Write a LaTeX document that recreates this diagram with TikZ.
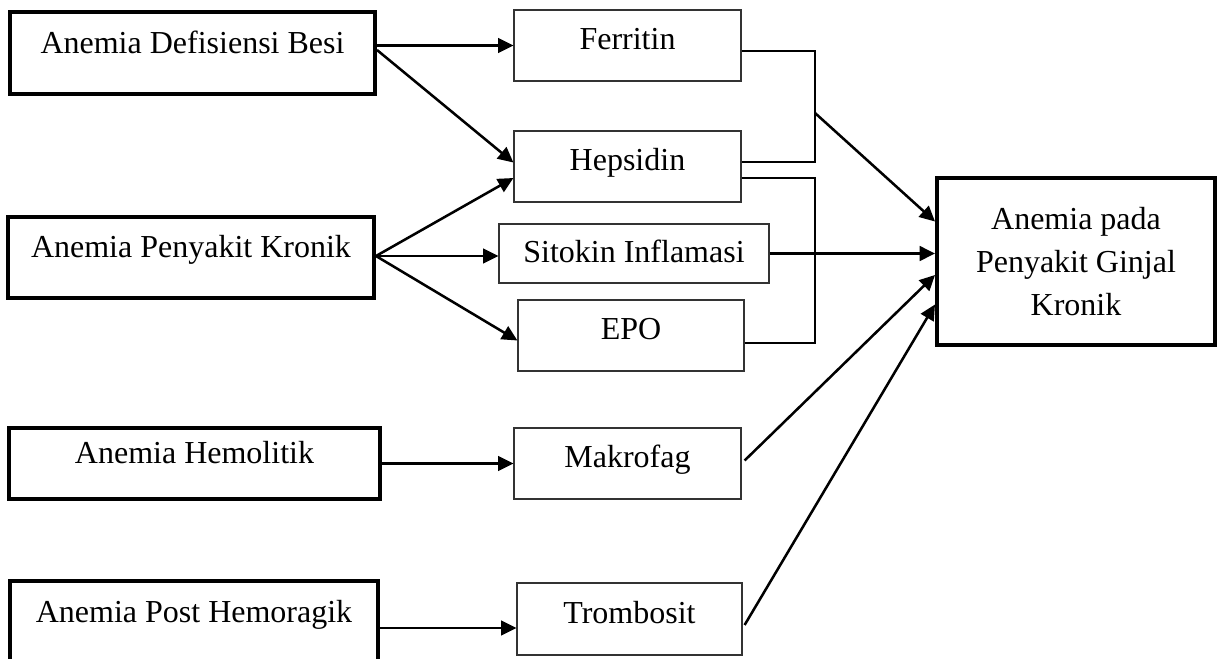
\documentclass[tikz,border=0pt]{standalone}
\usepackage{fontspec}
\setmainfont{Liberation Serif}
\usetikzlibrary{shapes,calc,arrows.meta}

\begin{document}
\begin{tikzpicture}[x=0.75pt,y=-0.75pt]
				\tikzstyle{every node}=[font=\fontsize{24}{32}\selectfont, inner sep=0pt]
				\tikzstyle{anemia}=[rectangle, draw, line width=3pt, text height=14pt, text depth=14pt]
				\tikzstyle{faktor}=[rectangle, draw=black!80, line width=0.9pt, text height=16pt, text depth=10pt]
				\tikzstyle{hasil}=[rectangle, draw, line width=3pt, align=center]
				\tikzstyle{panah}=[line width=1.9pt, -{Triangle[length=11.5pt,width=11pt]}]
				\tikzstyle{garis}=[line width=1.9pt]
				\useasboundingbox (0,0) rectangle (1221,658);
				\node[anemia, minimum width=273.75pt, minimum height=61.5pt] (besi) at (192.5,53) {Anemia Defisiensi Besi};
				\node[anemia, minimum width=274.5pt, minimum height=60.75pt] (kronik) at (191,257.5) {Anemia Penyakit Kronik};
				\node[anemia, minimum width=278.25pt, minimum height=53.25pt] (hemolitik) at (194.5,463.5) {Anemia Hemolitik};
				\node[anemia, minimum width=276pt, minimum height=61.5pt] (posthem) at (194,622) {Anemia Post Hemoragik};
				\node[faktor, minimum width=170.25pt, minimum height=53.25pt] (ferritin) at (627.5,45.5) {Ferritin};
				\node[faktor, minimum width=170.25pt, minimum height=53.25pt] (hepsidin) at (627.5,166.5) {Hepsidin};
				\node[faktor, minimum width=202.5pt, minimum height=44.25pt, text height=17pt, text depth=3pt] (sitokin) at (634,253.5) {Sitokin Inflamasi};
				\node[faktor, minimum width=169.5pt, minimum height=53.25pt] (epo) at (631,335.5) {EPO};
				\node[faktor, minimum width=170.25pt, minimum height=53.25pt] (makrofag) at (627.5,463.5) {Makrofag};
				\node[faktor, minimum width=168.75pt, minimum height=54pt] (trombosit) at (629.5,619) {Trombosit};
				\node[hasil, minimum width=208.5pt, minimum height=125.25pt] (ginjal) at (1076,261.5) {Anemia pada\\Penyakit Ginjal\\Kronik};
				\draw[panah] (besi.east |- ferritin.west) -- (ferritin.west);
				\draw[panah] ($(besi.east)+(0,-3)$) -- ($(hepsidin.west)+(0,-4)$);
				\coordinate (kr) at ($(kronik.east)+(0,-1.5)$);
				\draw[panah] (kr) -- ($(hepsidin.west)+(0,11.5)$);
				\draw[panah] (kr) -- (sitokin.west |- kr);
				\draw[panah] (kr) -- ($(epo.west)+(0,5)$);
				\draw[panah] (hemolitik.east) -- (makrofag.west);
				\draw[panah] ($(posthem.east)+(0,6)$) -- ($(trombosit.west)+(0,9)$);
				\coordinate (k1) at (815,113);
				\draw[garis] ($(ferritin.east)+(0,5.5)$) -| (k1) |- ($(hepsidin.east)+(0,-4.5)$);
				\draw[panah] (k1) -- ($(ginjal.west)+(0,-40)$);
				\coordinate (k2) at (815,255);
				\draw[garis] ($(hepsidin.east)+(0,11.5)$) -| (k2) |- ($(epo.east)+(0,7.5)$);
				\draw[panah] (sitokin.east) -- (ginjal.west |- sitokin.east);
				\draw[panah] ($(makrofag.east)+(3,-3)$) -- ($(ginjal.west)+(0,13.5)$);
				\draw[panah] ($(trombosit.east)+(2,6)$) -- ($(ginjal.west)+(0,43)$);
			\end{tikzpicture}
\end{document}
